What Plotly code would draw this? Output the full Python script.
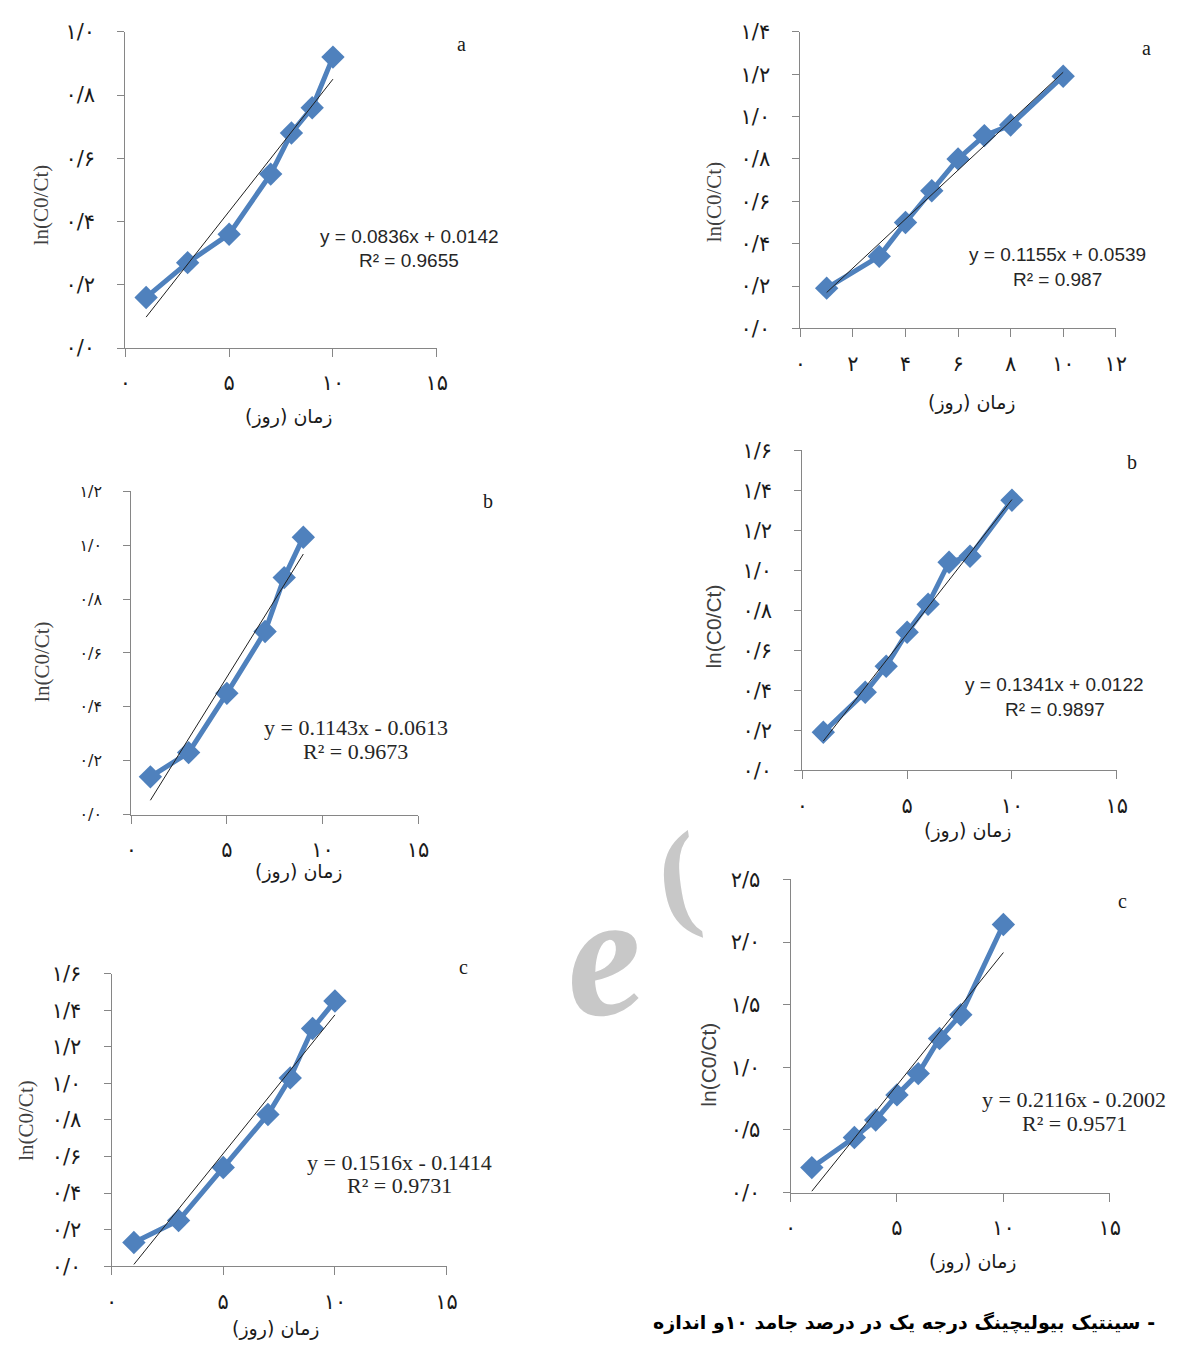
import plotly.graph_objects as go

# The page body keeps its default 8px margin, so the canvas is sized to fill
# the 1184x1358 window exactly; positions below are given in window pixels.
PAGE_W, PAGE_H = 1184, 1358
OFF = 8
W, H = PAGE_W - 2 * OFF, PAGE_H - 2 * OFF

# ---------------- data ----------------
days_a_left = [1, 3, 5, 7, 8, 9, 10]
lnc_a_left = [0.16, 0.27, 0.36, 0.55, 0.68, 0.76, 0.92]
days_a_right = [1, 3, 4, 5, 6, 7, 8, 10]
lnc_a_right = [0.19, 0.34, 0.50, 0.65, 0.80, 0.91, 0.96, 1.19]

days_b_left = [1, 3, 5, 7, 8, 9]
lnc_b_left = [0.14, 0.23, 0.45, 0.68, 0.88, 1.03]
days_b_right = [1, 3, 4, 5, 6, 7, 8, 10]
lnc_b_right = [0.19, 0.39, 0.52, 0.69, 0.83, 1.04, 1.07, 1.35]

days_c_left = [1, 3, 5, 7, 8, 9, 10]
lnc_c_left = [0.13, 0.25, 0.54, 0.83, 1.03, 1.30, 1.45]
days_c_right = [1, 3, 4, 5, 6, 7, 8, 10]
lnc_c_right = [0.20, 0.44, 0.58, 0.78, 0.95, 1.23, 1.42, 2.14]

fit_slopes = [0.0836, 0.1155, 0.1143, 0.1341, 0.1516, 0.2116]
fit_intercepts = [0.0142, 0.0539, -0.0613, 0.0122, -0.1414, -0.2002]
fit_r2 = [0.9655, 0.987, 0.9673, 0.9897, 0.9731, 0.9571]
panel_letters = ["a", "a", "b", "b", "c", "c"]

x_ticks_15 = [0, 5, 10, 15]
x_ticktext_15 = ["۰", "۵", "۱۰", "۱۵"]
x_ticks_12 = [0, 2, 4, 6, 8, 10, 12]
x_ticktext_12 = ["۰", "۲", "۴", "۶", "۸", "۱۰", "۱۲"]

y_ticks_10 = [0, 0.2, 0.4, 0.6, 0.8, 1.0]
y_ticktext_10 = ["۰/۰", "۰/۲", "۰/۴", "۰/۶", "۰/۸", "۱/۰"]
y_ticks_12 = [0, 0.2, 0.4, 0.6, 0.8, 1.0, 1.2]
y_ticktext_12 = ["۰/۰", "۰/۲", "۰/۴", "۰/۶", "۰/۸", "۱/۰", "۱/۲"]
y_ticks_14 = [0, 0.2, 0.4, 0.6, 0.8, 1.0, 1.2, 1.4]
y_ticktext_14 = ["۰/۰", "۰/۲", "۰/۴", "۰/۶", "۰/۸", "۱/۰", "۱/۲", "۱/۴"]
y_ticks_16 = [0, 0.2, 0.4, 0.6, 0.8, 1.0, 1.2, 1.4, 1.6]
y_ticktext_16 = ["۰/۰", "۰/۲", "۰/۴", "۰/۶", "۰/۸", "۱/۰", "۱/۲", "۱/۴", "۱/۶"]
y_ticks_25 = [0, 0.5, 1.0, 1.5, 2.0, 2.5]
y_ticktext_25 = ["۰/۰", "۰/۵", "۱/۰", "۱/۵", "۲/۰", "۲/۵"]

x_title = "زمان (روز)"
y_title = "ln(C0/Ct)"
caption = "سینتیک بیولیچینگ درجه یک در درصد جامد ۱۰و اندازه -"
watermark_parts = ["e", "("]

# ---------------- layout / style config ----------------
SERIF = "Liberation Serif, Times New Roman, serif"
SANS = "Liberation Sans, Arial, sans-serif"
FA = "DejaVu Sans, sans-serif"
BLUE = "#4f81bd"
AXIS = "#868686"

panels = [
    dict(x=days_a_left, y=lnc_a_left, box=(121, 437, 20, 342), xr=15, yr=1.0,
         xt=(x_ticks_15, x_ticktext_15), yt=(y_ticks_10, y_ticktext_10), ytf=21,
         eqfont=SANS, eqsize=19, eq=(409, 228, 253), letter=(462, 32),
         ytitle=(35, 196, SERIF), xtitle=(287, 412)),
    dict(x=days_a_right, y=lnc_a_right, box=(806, 1126, 20, 322), xr=12, yr=1.4,
         xt=(x_ticks_12, x_ticktext_12), yt=(y_ticks_14, y_ticktext_14), ytf=21,
         eqfont=SANS, eqsize=19, eq=(1067, 247, 272), letter=(1157, 37),
         ytitle=(718, 193, SERIF), xtitle=(980, 397)),
    dict(x=days_b_left, y=lnc_b_left, box=(127, 418, 488, 817), xr=15, yr=1.2,
         xt=(x_ticks_15, x_ticktext_15), yt=(y_ticks_12, y_ticktext_12), ytf=16,
         eqfont=SERIF, eqsize=22, eq=(355, 728, 753), letter=(489, 498),
         ytitle=(37, 661, SERIF), xtitle=(297, 875)),
    dict(x=days_b_right, y=lnc_b_right, box=(808, 1127, 446, 772), xr=15, yr=1.6,
         xt=(x_ticks_15, x_ticktext_15), yt=(y_ticks_16, y_ticktext_16), ytf=21,
         eqfont=SANS, eqsize=19, eq=(1064, 685, 710), letter=(1143, 458),
         ytitle=(718, 626, SANS), xtitle=(976, 833)),
    dict(x=days_c_left, y=lnc_c_left, box=(107, 447, 979, 1277), xr=15, yr=1.6,
         xt=(x_ticks_15, x_ticktext_15), yt=(y_ticks_16, y_ticktext_16), ytf=21,
         eqfont=SERIF, eqsize=22, eq=(399, 1171, 1195), letter=(464, 972),
         ytitle=(20, 1128, SERIF), xtitle=(274, 1340)),
    dict(x=days_c_right, y=lnc_c_right, box=(796, 1120, 883, 1202), xr=15, yr=2.5,
         xt=(x_ticks_15, x_ticktext_15), yt=(y_ticks_25, y_ticktext_25), ytf=21,
         eqfont=SERIF, eqsize=22, eq=(1084, 1107, 1132), letter=(1133, 905),
         ytitle=(713, 1072, SANS), xtitle=(981, 1272)),
]


def px(v):
    return (v - OFF) / W


def py(v):
    return 1 - (v - OFF) / H


fig = go.Figure()
layout = dict(width=W, height=H, margin=dict(l=0, r=0, t=0, b=0),
              paper_bgcolor="white", plot_bgcolor="white", showlegend=False)
annotations = []

# watermark (drawn first so it sits beneath the other text)
annotations.append(dict(
    text=watermark_parts[0], xref="paper", yref="paper", x=px(606), y=py(960),
    xanchor="center", yanchor="middle", showarrow=False, textangle=-8,
    font=dict(family=SERIF, size=175, color="#c8c8c8", style="italic", weight="bold")))
annotations.append(dict(
    text=watermark_parts[1], xref="paper", yref="paper", x=px(682), y=py(878),
    xanchor="center", yanchor="middle", showarrow=False, textangle=-8,
    font=dict(family=SERIF, size=120, color="#c8c8c8", weight="bold")))

for i, p in enumerate(panels):
    n = i + 1
    xa = "x" if n == 1 else f"x{n}"
    ya = "y" if n == 1 else f"y{n}"
    x0, x1, top, bot = p["box"]
    layout[f"xaxis{'' if n == 1 else n}"] = dict(
        domain=[px(x0), px(x1)], range=[0, p["xr"]], anchor=ya,
        showline=True, linecolor=AXIS, linewidth=1, mirror=False,
        ticks="outside", ticklen=8, tickcolor=AXIS, tickwidth=1,
        tickvals=p["xt"][0], ticktext=p["xt"][1], showgrid=False, zeroline=False,
        tickfont=dict(family=FA, size=21, color="#1a1a1a"), ticklabelstandoff=8,
    )
    layout[f"yaxis{'' if n == 1 else n}"] = dict(
        domain=[py(bot), py(top)], range=[0, p["yr"]], anchor=xa,
        showline=True, linecolor=AXIS, linewidth=1, mirror=False,
        ticks="outside", ticklen=7, tickcolor=AXIS, tickwidth=1,
        tickvals=p["yt"][0], ticktext=p["yt"][1], showgrid=False, zeroline=False,
        tickfont=dict(family=FA, size=p["ytf"], color="#1a1a1a"), ticklabelstandoff=18,
    )
    # data series
    fig.add_trace(go.Scatter(
        x=p["x"], y=p["y"], xaxis=xa, yaxis=ya, mode="lines+markers",
        line=dict(color=BLUE, width=5),
        marker=dict(symbol="diamond", size=18, color=BLUE, line=dict(width=0)),
        hoverinfo="skip"))
    # linear trend line from the fitted equation
    a, b = fit_slopes[i], fit_intercepts[i]
    xs = [min(p["x"]), max(p["x"])]
    fig.add_trace(go.Scatter(
        x=xs, y=[a * v + b for v in xs], xaxis=xa, yaxis=ya, mode="lines",
        line=dict(color="#1f1f1f", width=1), hoverinfo="skip"))

    sign = "+" if b >= 0 else "-"
    eq_text = f"y = {a:.4f}x {sign} {abs(b):.4f}"
    r2_text = f"R² = {fit_r2[i]:g}"
    ex, ey1, ey2 = p["eq"]
    for txt, yy in ((eq_text, ey1), (r2_text, ey2)):
        annotations.append(dict(
            text=txt, xref="paper", yref="paper", x=px(ex), y=py(yy),
            xanchor="center", yanchor="middle", showarrow=False,
            font=dict(family=p["eqfont"], size=p["eqsize"], color="#262626")))
    lx, ly = p["letter"]
    annotations.append(dict(
        text=panel_letters[i], xref="paper", yref="paper", x=px(lx), y=py(ly),
        xanchor="center", yanchor="middle", showarrow=False,
        font=dict(family=SERIF, size=20, color="#1a1a1a")))
    tx, ty, tf = p["ytitle"]
    annotations.append(dict(
        text=y_title, xref="paper", yref="paper", x=px(tx), y=py(ty),
        xanchor="center", yanchor="middle", showarrow=False, textangle=-90,
        font=dict(family=tf, size=21, color="#404040")))
    gx, gy = p["xtitle"]
    annotations.append(dict(
        text=x_title, xref="paper", yref="paper", x=px(gx), y=py(gy),
        xanchor="center", yanchor="middle", showarrow=False,
        font=dict(family=FA, size=19, color="#1a1a1a")))

# caption at the foot of the page, kept fully visible
annotations.append(dict(
    text=caption, xref="paper", yref="paper", x=px(1168), y=py(1348),
    xanchor="right", yanchor="bottom", showarrow=False,
    font=dict(family=FA, size=19, color="#000000", weight="bold")))

layout["annotations"] = annotations
fig.update_layout(**layout)

fig.write_html("out.html", config={"displayModeBar": False})
